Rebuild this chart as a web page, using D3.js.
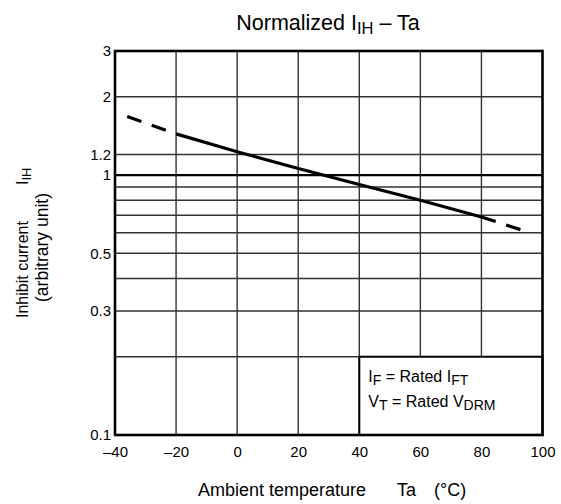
<!DOCTYPE html>
<html>
<head>
<meta charset="utf-8">
<script src="https://cdn.jsdelivr.net/npm/d3@7"></script>
<style>
  body { margin: 0; background: #fff; }
  text { font-family: "Liberation Sans", Arial, sans-serif; fill: #000; white-space: pre; }
</style>
</head>
<body>
<script>
// valori
const temps = [-36, -20, 0, 20, 40, 60, 80, 94];
const current = [1.68, 1.44, 1.23, 1.06, 0.92, 0.80, 0.69, 0.61];
const solidFrom = -20;
const solidTo = 80;

const xTicks = [-40, -20, 0, 20, 40, 60, 80, 100];
const yTicks = [0.1, 0.3, 0.5, 1, 1.2, 2, 3];
const yTickLabels = ["0.1", "0.3", "0.5", "1", "1.2", "2", "3"];
const yGrid = [0.2, 0.3, 0.4, 0.5, 0.6, 0.7, 0.8, 0.9, 1, 1.2, 2];

const W = 561, H = 504;

var svg = d3.select("body")
  .append("svg")
  .attr("width", W)
  .attr("height", H);

const x = d3.scaleLinear().domain([-40, 100]).range([115, 542.5]);
const y = d3.scaleLog().domain([0.1, 3]).range([435, 51]);

// griglia verticale
svg.append("g")
  .selectAll("line")
  .data(xTicks.slice(1, -1))
  .join("line")
  .attr("x1", d => x(d)).attr("x2", d => x(d))
  .attr("y1", y(3)).attr("y2", y(0.1))
  .attr("stroke", "#333")
  .attr("stroke-width", 1.4);

// griglia orizzontale (la linea di 1 e' piu' spessa)
svg.append("g")
  .selectAll("line")
  .data(yGrid)
  .join("line")
  .attr("x1", x(-40)).attr("x2", x(100))
  .attr("y1", d => y(d)).attr("y2", d => y(d))
  .attr("stroke", d => d === 1 ? "#000" : "#333")
  .attr("stroke-width", d => d === 1 ? 2.2 : 1.4);

// riquadro condizioni
svg.append("rect")
  .attr("x", x(40))
  .attr("y", y(0.2))
  .attr("width", x(100) - x(40))
  .attr("height", y(0.1) - y(0.2))
  .attr("fill", "#fff")
  .attr("stroke", "#000")
  .attr("stroke-width", 2);

// curva
const line = d3.line()
  .x(d => x(d[0]))
  .y(d => y(d[1]));

const pts = temps.map((t, i) => [t, current[i]]);
const leftPts = pts.filter(p => p[0] <= solidFrom);
const midPts = pts.filter(p => p[0] >= solidFrom && p[0] <= solidTo);
const rightPts = pts.filter(p => p[0] >= solidTo);

svg.append("path")
  .attr("d", line(midPts))
  .attr("fill", "none")
  .attr("stroke", "#000")
  .attr("stroke-width", 3.2);

[leftPts, rightPts].forEach(function (seg) {
  svg.append("path")
    .attr("d", line(seg))
    .attr("fill", "none")
    .attr("stroke", "#000")
    .attr("stroke-width", 3.2)
    .attr("stroke-dasharray", "15,11");
});

// bordo
svg.append("rect")
  .attr("x", x(-40))
  .attr("y", y(3))
  .attr("width", x(100) - x(-40))
  .attr("height", y(0.1) - y(3))
  .attr("fill", "none")
  .attr("stroke", "#000")
  .attr("stroke-width", 2.6);

// etichette assi
const xAxis = d3.axisBottom(x).tickValues(xTicks).tickSize(0).tickPadding(11)
  .tickFormat(d => d < 0 ? "\u2013" + Math.abs(d) : d);
svg.append("g")
  .attr("transform", "translate(0," + y(0.1) + ")")
  .call(xAxis)
  .call(g => g.select(".domain").remove())
  .selectAll("text")
  .attr("font-size", 15)
  .attr("font-family", "Liberation Sans, Arial, sans-serif");

const yAxis = d3.axisLeft(y).tickValues(yTicks).tickSize(0).tickPadding(4)
  .tickFormat((d, i) => yTickLabels[i]);
svg.append("g")
  .attr("transform", "translate(" + x(-40) + ",0)")
  .call(yAxis)
  .call(g => g.select(".domain").remove())
  .selectAll("text")
  .attr("font-size", 15)
  .attr("font-family", "Liberation Sans, Arial, sans-serif");

// titolo
const title = svg.append("text")
  .attr("x", 328).attr("y", 30)
  .attr("text-anchor", "middle")
  .attr("font-size", 21.5);
title.append("tspan").text("Normalized I");
title.append("tspan").attr("dy", 4).attr("font-size", 16.5).text("IH");
title.append("tspan").attr("dy", -4).text(" \u2013 Ta");

// titolo asse x
const xl = svg.append("text")
  .attr("y", 496)
  .attr("font-size", 18);
xl.append("tspan").attr("x", 198).text("Ambient temperature");
xl.append("tspan").attr("x", 397).text("Ta");
xl.append("tspan").attr("x", 434).text("(\u00B0C)");

// titolo asse y
const yl = svg.append("text")
  .attr("transform", "translate(28,318) rotate(-90)")
  .attr("font-size", 16);
yl.append("tspan").text("Inhibit current");
yl.append("tspan").attr("x", 133).text("I");
yl.append("tspan").attr("dy", 3).attr("font-size", 13).text("IH");

svg.append("text")
  .attr("transform", "translate(48,247.5) rotate(-90)")
  .attr("text-anchor", "middle")
  .attr("font-size", 17.5)
  .text("(arbitrary unit)");

// testo riquadro
const l1 = svg.append("text")
  .attr("x", x(40) + 9).attr("y", 382)
  .attr("font-size", 16);
l1.append("tspan").text("I");
l1.append("tspan").attr("dy", 3).attr("font-size", 14).text("F");
l1.append("tspan").attr("dy", -3).text(" = Rated I");
l1.append("tspan").attr("dy", 3).attr("font-size", 14).text("FT");

const l2 = svg.append("text")
  .attr("x", x(40) + 9).attr("y", 407)
  .attr("font-size", 16);
l2.append("tspan").text("V");
l2.append("tspan").attr("dy", 3).attr("font-size", 14).text("T");
l2.append("tspan").attr("dy", -3).text(" = Rated V");
l2.append("tspan").attr("dy", 3).attr("font-size", 14).text("DRM");
</script>
</body>
</html>
